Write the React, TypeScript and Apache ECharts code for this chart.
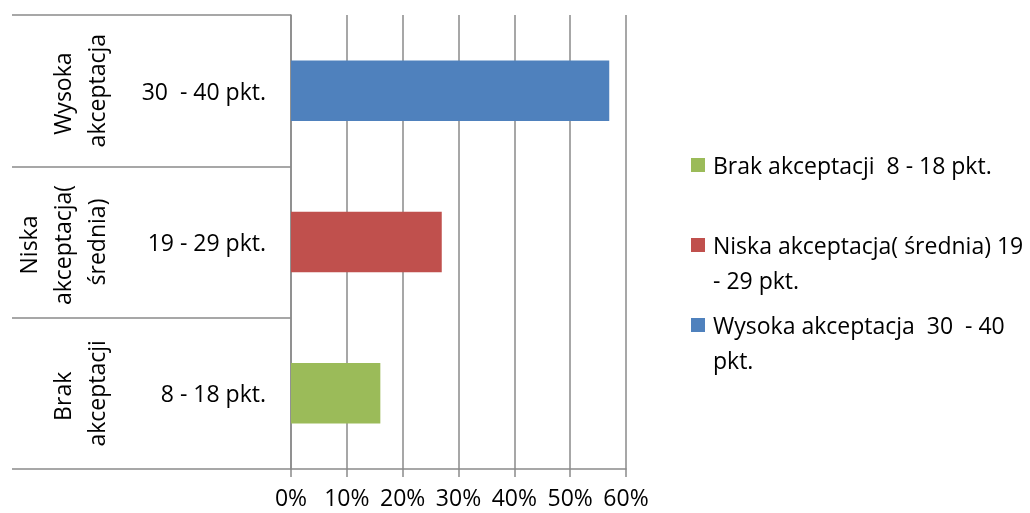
import { useEffect, useRef } from 'react';
import * as echarts from 'echarts';

// Score ranges (inner category level), bottom to top
const scoreRanges = ['8 - 18 pkt.', '19 - 29 pkt.', '30  - 40 pkt.'];
// Acceptance levels (outer category level), bottom to top
const acceptanceGroups = ['Brak akceptacji', 'Niska akceptacja( średnia)', 'Wysoka akceptacja'];
// Series names, one series per acceptance level
const seriesNames = [
  'Brak akceptacji  8 - 18 pkt.',
  'Niska akceptacja( średnia) 19 - 29 pkt.',
  'Wysoka akceptacja  30  - 40 pkt.',
];
// Legend entries as they wrap in the legend box
const legendLines = [
  ['Brak akceptacji  8 - 18 pkt.'],
  ['Niska akceptacja( średnia) 19', '- 29 pkt.'],
  ['Wysoka akceptacja  30  - 40', 'pkt.'],
];
// Share of respondents, in percent
const sharePercent = [16, 27, 57];
const seriesColors = ['#9BBB59', '#C0504D', '#4F81BD'];
// Value axis range
const axisMin = 0;
const axisMax = 60;
const axisStep = 10;

const FONT = '"Open Sans", "Noto Sans", sans-serif';
const LINE = '#8a8a8a';
const TEXT = '#000000';

export default function App() {
  const ref = useRef<HTMLDivElement>(null);

  useEffect(() => {
    if (!ref.current) return;
    const chart = echarts.init(ref.current, undefined, { renderer: 'svg' });

    const series = seriesNames.map((name, i) => ({
      name,
      type: 'bar' as const,
      stack: 'share',
      barWidth: '40%',
      itemStyle: { color: seriesColors[i] },
      data: scoreRanges.map((_, j) => (j === i ? sharePercent[i] : '-')),
    }));

    const legendGraphics: any[] = [];
    legendLines.forEach((lines, i) => {
      const top = 147.5 + i * 80;
      legendGraphics.push({
        type: 'rect',
        shape: { x: 691, y: top + 10.5, width: 14, height: 14 },
        style: { fill: seriesColors[i] },
      });
      legendGraphics.push({
        type: 'text',
        x: 713,
        y: top,
        style: {
          text: lines.join('\n'),
          font: `23px ${FONT}`,
          fill: TEXT,
          lineHeight: 35,
          verticalAlign: 'top',
          align: 'left',
        },
      });
    });

    chart.setOption({
      animation: false,
      textStyle: { fontFamily: FONT },
      grid: { left: 291, top: 15, width: 335, height: 454 },
      xAxis: {
        type: 'value',
        min: axisMin,
        max: axisMax,
        interval: axisStep,
        axisLine: { show: true, lineStyle: { color: LINE, width: 1.5 } },
        axisTick: { show: true, length: 8, lineStyle: { color: LINE, width: 1.5 } },
        splitLine: { show: true, lineStyle: { color: LINE, width: 1.5 } },
        axisLabel: {
          formatter: '{value}%',
          color: TEXT,
          fontSize: 23,
          fontFamily: FONT,
          margin: 16.5,
        },
      },
      yAxis: [
        {
          type: 'category',
          data: scoreRanges,
          axisLine: { show: true, lineStyle: { color: LINE, width: 1.5 } },
          axisTick: {
            show: true,
            length: 279,
            alignWithLabel: false,
            lineStyle: { color: LINE, width: 1.5 },
          },
          splitLine: { show: false },
          axisLabel: {
            interval: 0,
            color: TEXT,
            fontSize: 23,
            fontFamily: FONT,
            margin: 25,
          },
        },
        {
          type: 'category',
          data: acceptanceGroups,
          position: 'left',
          offset: 160,
          axisLine: { show: false },
          axisTick: { show: false },
          splitLine: { show: false },
          axisLabel: {
            interval: 0,
            rotate: 90,
            color: TEXT,
            fontSize: 23,
            fontFamily: FONT,
            margin: 18,
            width: 135,
            overflow: 'break',
            lineHeight: 34,
          },
        },
      ],
      series,
      graphic: legendGraphics,
    });

    return () => chart.dispose();
  }, []);

  return (
    <div
      ref={ref}
      style={{ position: 'fixed', left: 0, top: 0, width: 1030, height: 513 }}
    />
  );
}
